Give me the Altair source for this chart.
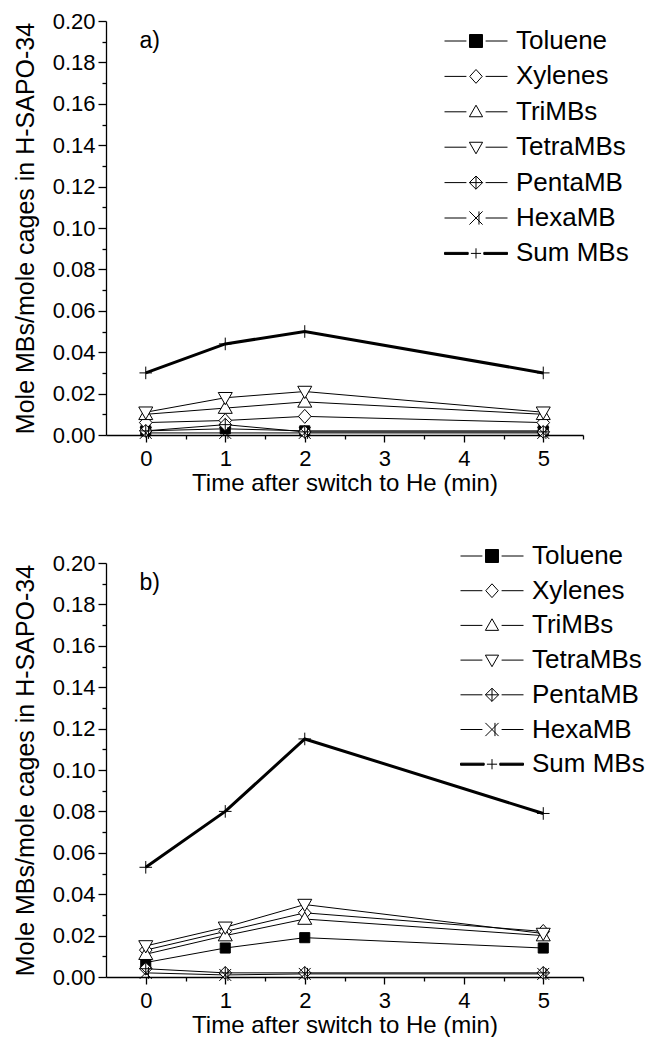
import altair as alt
import pandas as pd

# ---------------- data ----------------
times = [0, 1, 2, 5]
series_names = ["Toluene", "Xylenes", "TriMBs", "TetraMBs", "PentaMB", "HexaMB", "Sum MBs"]

# panel a)
a_toluene = [0.002, 0.003, 0.002, 0.002]
a_xylenes = [0.006, 0.007, 0.009, 0.006]
a_trimbs = [0.010, 0.013, 0.016, 0.010]
a_tetrambs = [0.011, 0.018, 0.021, 0.011]
a_pentamb = [0.002, 0.005, 0.0015, 0.0015]
a_hexamb = [0.001, 0.001, 0.001, 0.001]
a_sum = [0.030, 0.044, 0.050, 0.030]

# panel b)
b_toluene = [0.007, 0.014, 0.019, 0.014]
b_xylenes = [0.013, 0.022, 0.031, 0.022]
b_trimbs = [0.011, 0.020, 0.028, 0.020]
b_tetrambs = [0.015, 0.024, 0.035, 0.021]
b_pentamb = [0.004, 0.002, 0.002, 0.002]
b_hexamb = [0.002, 0.001, 0.0015, 0.0015]
b_sum = [0.053, 0.080, 0.115, 0.079]

panel_tags = ["a)", "b)"]
y_title = "Mole MBs/mole cages in H-SAPO-34"
x_title = "Time after switch to He (min)"
y_tick_values = [round(0.01 * i, 2) for i in range(21)]
x_tick_values = [0.5 * i for i in range(12)]

FONT = "Liberation Sans"
fills = ["black", "white", "white", "white", "white", "white", "black"]
strokes = ["black"] * 7

# ---------------- marker geometry ----------------
markers = {
    "Toluene": [([(-1, -1), (1, -1), (1, 1), (-1, 1)], True)],
    "Xylenes": [([(0, -1), (0.9, 0), (0, 1), (-0.9, 0)], True)],
    "TriMBs": [([(0, -1), (1, 0.75), (-1, 0.75)], True)],
    "TetraMBs": [([(-1, -0.75), (1, -0.75), (0, 1)], True)],
    "PentaMB": [([(0, -1), (1, 0), (0, 1), (-1, 0)], True), ([(0, -1), (0, 1)], False), ([(-1, 0), (1, 0)], False)],
    "HexaMB": [([(-1, -1), (1, 1)], False), ([(-1, 1), (1, -1)], False), ([(0.45, -1), (0.45, 1)], False)],
    "Sum MBs": [([(-1, 0), (1, 0)], False), ([(0, -1), (0, 1)], False)],
}
plot_k = {"Toluene": 0.72, "Xylenes": 1.0, "TriMBs": 1.0, "TetraMBs": 1.0, "PentaMB": 0.9, "HexaMB": 0.85, "Sum MBs": 0.9}
legend_k = {"Toluene": 1.08, "Xylenes": 1.15, "TriMBs": 1.1, "TetraMBs": 1.1, "PentaMB": 1.1, "HexaMB": 1.1, "Sum MBs": 0.85}


def path_of(parts, k=1.0):
    out = []
    for pts, closed in parts:
        seg = "M" + " L".join(f"{x * k:.3f},{y * k:.3f}" for x, y in pts)
        if closed:
            seg += " Z"
        out.append(seg)
    return " ".join(out)


def legend_path(name):
    mk = path_of(markers[name], legend_k[name])
    if name == "Sum MBs":
        lines = "M-5.25,-0.17 L-1.3,-0.17 L-1.3,0.17 L-5.25,0.17 Z M1.3,-0.17 L5.25,-0.17 L5.25,0.17 L1.3,0.17 Z"
    else:
        lines = "M-5.25,0 L-1.6,0 M1.6,0 L5.25,0"
    return lines + " " + mk


legend_shapes = [legend_path(n) for n in series_names]


def make_df(cols):
    rows = []
    for name, vals in zip(series_names, cols):
        for t, v in zip(times, vals):
            rows.append({"time": t, "value": v, "series": name})
    return pd.DataFrame(rows)


x_axis = alt.Axis(
    title=x_title, values=x_tick_values,
    labelExpr="datum.value % 1 === 0 ? format(datum.value, 'd') : ''",
    tickSize={"condition": {"test": "datum.value % 1 === 0", "value": 7}, "value": 4},
    labelFontSize=22, titleFontSize=24, labelFont=FONT, titleFont=FONT,
    labelColor="black", titleColor="black", domainColor="black", tickColor="black",
    domainWidth=1.3, tickWidth=1.3, labelPadding=6, titlePadding=2, grid=False,
    labelFlush=False, labelOverlap=False, titleFontWeight="normal",
)
y_axis = alt.Axis(
    title=y_title, values=y_tick_values,
    labelExpr="round(datum.value * 100) % 2 === 0 ? format(datum.value, '.2f') : ''",
    tickSize={"condition": {"test": "round(datum.value * 100) % 2 === 0", "value": 8}, "value": 4},
    labelFontSize=22, titleFontSize=25, labelFont=FONT, titleFont=FONT,
    labelColor="black", titleColor="black", domainColor="black", tickColor="black",
    domainWidth=1.3, tickWidth=1.3, labelPadding=3, titlePadding=14, grid=False,
    labelFlush=False, labelOverlap=False, titleFontWeight="normal",
)

X_SCALE = alt.Scale(domain=[-0.5, 5.5], nice=False, zero=False)
Y_SCALE = alt.Scale(domain=[0, 0.2], nice=False)


def panel(cols, tag, lx, ly, row_pad):
    df = make_df(cols)
    base = alt.Chart(df).encode(
        x=alt.X("time:Q", scale=X_SCALE, axis=x_axis),
        y=alt.Y("value:Q", scale=Y_SCALE, axis=y_axis),
    )
    lines_thin = base.transform_filter(alt.datum.series != "Sum MBs").mark_line(
        color="black", strokeWidth=1).encode(detail="series:N")
    lines_sum = base.transform_filter(alt.datum.series == "Sum MBs").mark_line(
        color="black", strokeWidth=3)
    layers = [lines_thin, lines_sum]
    for name, f in zip(series_names, fills):
        layers.append(
            base.transform_filter(alt.datum.series == name).mark_point(
                shape=path_of(markers[name], plot_k[name]), size=196, filled=True,
                fill=f, stroke="black", strokeWidth=1, opacity=1)
        )
    leg = dict(
        title=None, orient="none", legendX=lx, legendY=ly, symbolSize=144,
        labelFontSize=26, labelFont=FONT, labelColor="black", labelOffset=27,
        rowPadding=row_pad, padding=0, symbolStrokeWidth=1,
        symbolOpacity=1, labelLimit=300,
    )
    legend_layer = base.mark_point(strokeWidth=1, opacity=0, size=144).encode(
        shape=alt.Shape("series:N", scale=alt.Scale(domain=series_names, range=legend_shapes),
                        sort=series_names, legend=alt.Legend(**leg)),
        fill=alt.Fill("series:N", scale=alt.Scale(domain=series_names, range=fills),
                      sort=series_names, legend=alt.Legend(**leg)),
        stroke=alt.Stroke("series:N", scale=alt.Scale(domain=series_names, range=strokes),
                          sort=series_names, legend=alt.Legend(**leg)),
    )
    layers.append(legend_layer)
    tag_layer = alt.Chart(pd.DataFrame({"tag": [tag]})).mark_text(
        align="left", baseline="alphabetic", fontSize=23, font=FONT, color="black", fontWeight="normal"
    ).encode(
        x=alt.X(datum=-0.08, scale=X_SCALE, axis=x_axis),
        y=alt.Y(datum=0.187, scale=Y_SCALE, axis=y_axis),
        text="tag:N",
    )
    layers.append(tag_layer)
    return alt.layer(*layers).properties(width=477, height=414)


top = panel([a_toluene, a_xylenes, a_trimbs, a_tetrambs, a_pentamb, a_hexamb, a_sum], panel_tags[0], 357, 7, 9.4)
bottom = panel([b_toluene, b_xylenes, b_trimbs, b_tetrambs, b_pentamb, b_hexamb, b_sum], panel_tags[1], 373, -20, 8.7)

chart = alt.vconcat(top, bottom, spacing=128, bounds="flush").resolve_scale(
    fill="independent", stroke="independent", shape="independent"
).resolve_legend(fill="independent", stroke="independent", shape="independent").properties(
    padding={"left": 5, "top": 2, "right": 0, "bottom": 0}
).configure_view(stroke=None)

chart.save("out.html", embed_options={"renderer": "svg", "actions": False})
